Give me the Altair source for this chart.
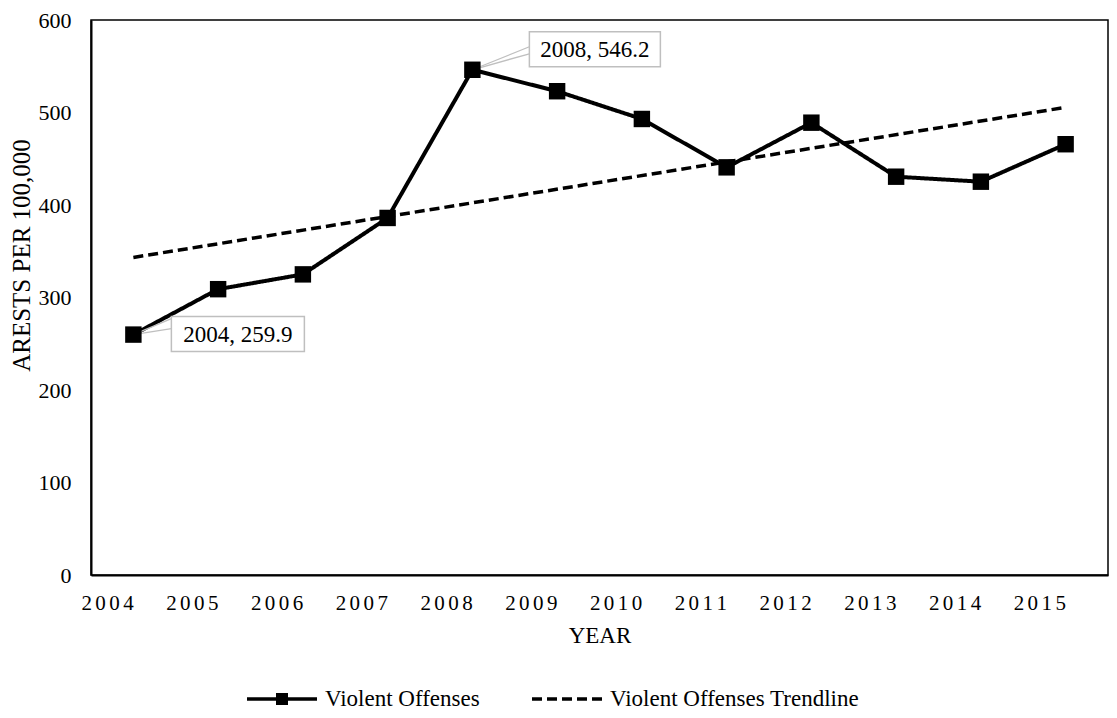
import altair as alt
import pandas as pd

years = [2004, 2005, 2006, 2007, 2008, 2009, 2010, 2011, 2012, 2013, 2014, 2015]
violent = [259.9, 309.0, 325.0, 386.0, 546.2, 523.0, 493.0, 440.7, 489.0, 430.6, 425.2, 465.7]
series_names = ["Violent Offenses", "Violent Offenses Trendline"]
ann_years = [2004, 2008]
ann_labels = ["2004, 259.9", "2008, 546.2"]

FONT = "Times New Roman, Liberation Serif, serif"

df = pd.DataFrame({"yr": years, "value": violent})
ann_df = pd.DataFrame({"yr": ann_years, "value": [violent[years.index(y)] for y in ann_years], "label": ann_labels})

xenc = alt.X("yr:O", scale=alt.Scale(type="point", domain=years, padding=0.5),
             axis=alt.Axis(title="YEAR", labelAngle=0, ticks=False, labelPadding=28,
                           labelExpr="join(split(datum.label, ''), '\u2006')",
                           labelFontSize=21, titlePadding=11, titleFontSize=23))
yenc = alt.Y("value:Q", scale=alt.Scale(domain=[0, 600]),
             axis=alt.Axis(title="ARESTS PER 100,000", values=[0, 100, 200, 300, 400, 500, 600],
                           grid=False, ticks=False, labelPadding=20, labelFontSize=22,
                           titleFontSize=25, titleX=-70, titleY=235, titleAlign="center",
                           titleBaseline="middle", titleAngle=270))

legend = alt.Legend(title=None, orient="none", direction="horizontal", legendX=154, legendY=642,
                    labelFont=FONT, labelFontSize=23, labelColor="black", labelOffset=6,
                    labelLimit=600,
                    symbolSize=4900, symbolStrokeWidth=3.5, symbolStrokeColor="black",
                    symbolOpacity=1, columnPadding=45)

dash_scale = alt.Scale(domain=series_names, range=[[1, 0], [10, 5]])
# line with a small solid square in the middle (square built from nested strokes)
line_square = ("M-1,0H1M-0.121,-0.121H0.121V0.121H-0.121Z"
               "M-0.043,-0.043H0.043V0.043H-0.043Z")
shape_scale = alt.Scale(domain=series_names, range=[line_square, "stroke"])

base = alt.Chart(df)

line = base.transform_calculate(series="'Violent Offenses'").mark_line(
    color="black", strokeWidth=4).encode(
    x=xenc, y=yenc, strokeDash=alt.StrokeDash("series:N", scale=dash_scale, legend=legend))

trend = base.transform_regression("yr", "value").transform_calculate(
    series="'Violent Offenses Trendline'").mark_line(color="black", strokeWidth=3.5).encode(
    x="yr:O", y="value:Q", strokeDash=alt.StrokeDash("series:N", scale=dash_scale, legend=legend))

legend_shape = base.transform_filter("false").transform_calculate(
    series="'Violent Offenses'").mark_point(
    filled=False, color="black", strokeWidth=3.5).encode(
    x="yr:O", y="value:Q", shape=alt.Shape("series:N", scale=shape_scale, legend=legend))

points = base.mark_point(shape="square", filled=True, color="black", size=270, opacity=1).encode(
    x="yr:O", y="value:Q")


def annotation(year, x0, x1, y0, y1, wy0, wy1):
    d = alt.Chart(ann_df).transform_filter(alt.datum.yr == year)
    wedge_a = d.mark_rule(color="#BFBFBF", strokeWidth=1.3, x2Offset=x0, y2Offset=wy0).encode(
        x="yr:O", y="value:Q", x2="yr:O", y2="value:Q")
    wedge_b = d.mark_rule(color="#BFBFBF", strokeWidth=1.3, x2Offset=x0, y2Offset=wy1).encode(
        x="yr:O", y="value:Q", x2="yr:O", y2="value:Q")
    box = d.mark_rect(fill="white", stroke="#BFBFBF", strokeWidth=1.5,
                      xOffset=x0, x2Offset=x1, yOffset=y0, y2Offset=y1).encode(
        x="yr:O", y="value:Q", x2="yr:O", y2="value:Q")
    txt = d.mark_text(font=FONT, fontSize=23, color="black", align="center", baseline="middle",
                      dx=(x0 + x1) / 2, dy=(y0 + y1) / 2 + 1).encode(
        x="yr:O", y="value:Q", text="label:N")
    return [wedge_a, wedge_b, box, txt]


ann_layers = annotation(2004, 38, 171, -18, 17, -16, -6) + annotation(2008, 57, 188, -38, -3, -23, -16)

chart = alt.layer(trend, line, legend_shape, *ann_layers, points).resolve_scale(
    strokeDash="shared").properties(
    width=1017, height=555,
    autosize=alt.AutoSizeParams(type="none"),
    padding={"left": 83, "top": 12, "right": 1, "bottom": 135},
).configure_view(stroke="black", strokeWidth=1.5).configure_axis(
    labelFont=FONT, titleFont=FONT, labelColor="black", titleColor="black",
    domainColor="black", domainWidth=2, titleFontWeight="normal",
).configure_legend(labelFont=FONT, labelColor="black").configure_text(font=FONT)

chart.save("out.html", embed_options={"renderer": "svg", "actions": False})
